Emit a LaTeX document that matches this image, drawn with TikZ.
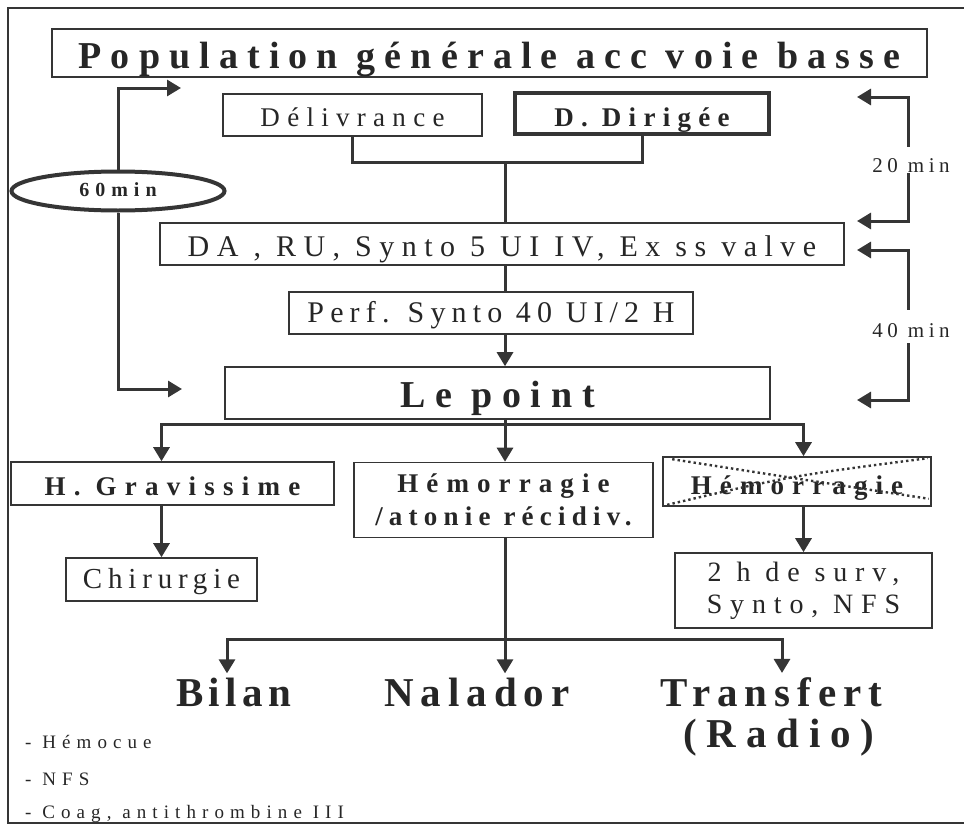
\documentclass[tikz,border=0pt]{standalone}
\usepackage{fontspec}
\setmainfont{Liberation Serif}
\usetikzlibrary{arrows.meta,shapes.geometric}
\definecolor{ink}{HTML}{353535}
\definecolor{txt}{HTML}{262626}
\newcommand{\fsz}[2]{\fontsize{#1}{#2}\selectfont}
\newcommand{\lsp}[1]{\addfontfeature{LetterSpace=#1}}
\begin{document}
\begin{tikzpicture}[x=1bp,y=-1bp,
  box/.style={draw=ink, line width=1.6bp, inner sep=0pt, text=txt, align=center},
  conn/.style={draw=ink, line width=3bp},
  arr/.style={conn, -{Triangle[length=14bp,width=16bp]}},
  lbl/.style={inner sep=0pt, text=txt},
  dots/.style={draw=ink, line width=2.4bp, dash pattern=on 2.4bp off 3bp}
]
\useasboundingbox (0,0) rectangle (964,825);
% outer frame
\draw[ink, line width=1.6bp] (964,8) -- (8,8) -- (8,823) -- (964,823);

% boxes
\node[box, minimum width=875bp, minimum height=48bp, text height=30bp, text depth=0bp,
  font=\fsz{38bp}{44bp}\bfseries\lsp{24}] (title) at (489.5,53) {Population générale acc voie basse};
\node[box, minimum width=259bp, minimum height=42bp, text height=22bp, text depth=0bp,
  font=\fsz{27bp}{32bp}\lsp{27}] (deliv) at (352.5,115) {Délivrance};
\node[box, line width=4bp, minimum width=254bp, minimum height=41bp, text height=25bp, text depth=0bp,
  font=\fsz{27bp}{32bp}\bfseries\lsp{27}] (dirig) at (642,113.5) {D. Dirigée};
\node[box, minimum width=684bp, minimum height=42bp, text height=24bp, text depth=0bp,
  font=\fsz{30bp}{34bp}\lsp{25}] (da) at (502,244) {DA , RU, Synto 5 UI IV, Ex ss valve};
\node[box, minimum width=404bp, minimum height=42bp, text height=19bp, text depth=0bp,
  font=\fsz{30bp}{34bp}\lsp{20.5}] (perf) at (491,313) {Perf. Synto 40 UI/2 H};
\node[box, minimum width=545bp, minimum height=52bp, text height=28bp, text depth=0bp,
  font=\fsz{38bp}{44bp}\bfseries\lsp{25.5}] (lep) at (497.5,393) {Le point};
\node[box, minimum width=323bp, minimum height=43bp, text height=23bp, text depth=0bp,
  font=\fsz{27bp}{32bp}\bfseries\lsp{30.5}] (hg) at (172.5,483.5) {H. Gravissime};
\node[box, minimum width=299bp, minimum height=75bp,
  font=\fsz{27bp}{33bp}\bfseries\lsp{30}] (hem) at (503.5,500) {Hémorragie\\{\lsp{23}/atonie récidiv.}};
\node[box, minimum width=268bp, minimum height=49bp, text height=25bp, text depth=0bp,
  font=\fsz{27bp}{32bp}\bfseries\lsp{30}] (cross) at (797,481.5) {Hémorragie};
\node[box, minimum width=191bp, minimum height=43bp, text height=17bp, text depth=0bp,
  font=\fsz{29bp}{33bp}\lsp{20}] (chir) at (161.5,579.5) {Chirurgie};
\node[box, minimum width=257bp, minimum height=75bp,
  font=\fsz{28bp}{32bp}\lsp{28}] (surv) at (803.5,590.5) {2 h de surv,\\Synto, NFS};
\node[ellipse, draw=ink, line width=4bp, minimum width=213bp, minimum height=39bp,
  inner sep=0pt, text=txt, text height=10bp, text depth=0bp,
  font=\fsz{20bp}{24bp}\bfseries\lsp{30}] (e60) at (118,191) {60min};

% dotted cross
\draw[dots] ([shift={(10,3)}]cross.north west) .. controls (780,476) .. ([shift={(-3,-8)}]cross.south east);
\draw[dots] ([shift={(5,-2)}]cross.south west) .. controls (790,476) .. ([shift={(-4,2)}]cross.north east);

% bottom texts
\node[lbl, inner sep=4bp, anchor=base, font=\fsz{41bp}{46bp}\bfseries\lsp{13}] (bilan) at (233.5,706) {Bilan};
\node[lbl, inner sep=4bp, anchor=base, font=\fsz{41bp}{46bp}\bfseries\lsp{17}] (nal) at (477,706) {Nalador};
\node[lbl, inner sep=4bp, anchor=base, font=\fsz{41bp}{46bp}\bfseries\lsp{17}] (trans) at (771.5,706) {Transfert};
\node[lbl, anchor=base, font=\fsz{41bp}{46bp}\bfseries\lsp{24}] (radio) at (779,747) {(Radio)};
\node[lbl, anchor=base west, font=\fsz{19bp}{23bp}\lsp{32}] (l1) at (25,748) {- Hémocue};
\node[lbl, anchor=base west, font=\fsz{19bp}{23bp}\lsp{32}] (l2) at (25,785) {- NFS};
\node[lbl, anchor=base west, font=\fsz{19bp}{23bp}\lsp{32}] (l3) at (25,818) {- Coag, antithrombine III};

% time labels
\node[lbl, anchor=base, text height=25bp, text depth=1bp, font=\fsz{21bp}{24bp}\lsp{22}] (t20) at (911,172) {20 min};
\node[lbl, anchor=base, text height=27bp, text depth=6bp, font=\fsz{21bp}{24bp}\lsp{22}] (t40) at (911,337) {40 min};

% coordinates
\coordinate (j1) at (505,162);
\coordinate (j2) at (505,424);
\coordinate (j3) at (505,639);
\coordinate (b1) at (227,639);
\coordinate (b3) at (782,639);
\coordinate (rx) at (908,0);
\coordinate (r1) at (857,97);
\coordinate (r2) at (857,221);
\coordinate (r3) at (857,250);
\coordinate (r4) at (857,400);
\coordinate (lt) at (181,88);
\coordinate (lb) at (182,389);

% connectors
\draw[conn] (deliv.south) |- (j1) -| (dirig.south);
\draw[conn] (j1) -- (da.north -| j1);
\draw[conn] (da.south -| j1) -- (perf.north -| j1);
\draw[arr] (perf.south -| j1) -- (lep.north -| j1);
\draw[conn] (lep.south -| j2) -- (j2);
\draw[arr] (j2) -| (hg.north -| chir);
\draw[arr] (j2) -- (hem.north -| j2);
\draw[arr] (j2) -| (cross.north -| surv);
\draw[arr] (hg.south -| chir) -- (chir.north);
\draw[arr] (cross.south -| surv) -- (surv.north);
\draw[conn] (hem.south -| j3) -- (j3);
\draw[arr] (j3) -| (bilan.north -| b1);
\draw[arr] (j3) -- (nal.north -| j3);
\draw[arr] (j3) -| (trans.north -| b3);

\draw[arr] (t20.north -| rx) |- (r1);
\draw[arr] (t20.south -| rx) |- (r2);
\draw[arr] (t40.north -| rx) |- (r3);
\draw[arr] (t40.south -| rx) |- (r4);

\draw[arr] (e60.north) |- (lt);
\draw[arr] (e60.south) |- (lb);
\end{tikzpicture}
\end{document}
